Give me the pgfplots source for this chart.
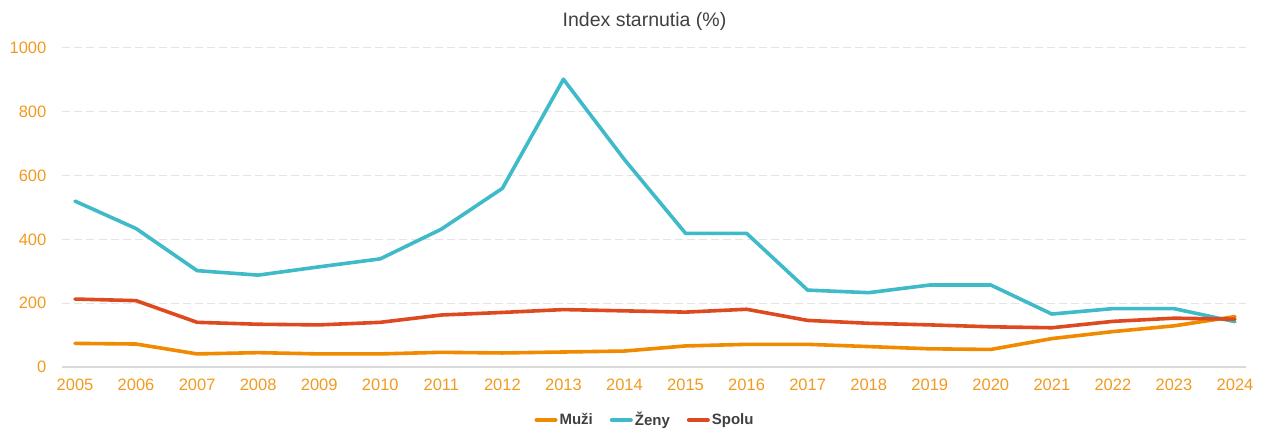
\documentclass[border=0pt]{standalone}
\usepackage{fontspec}
\setmainfont{Liberation Sans}
\usepackage{pgfplots}
\pgfplotsset{compat=1.18}
\definecolor{muzi}{HTML}{F08A00}
\definecolor{zeny}{HTML}{3EBAC8}
\definecolor{spolu}{HTML}{DE4A1F}
\definecolor{tickorange}{HTML}{F29A1F}
\definecolor{titlegray}{HTML}{404040}
\definecolor{gridgray}{HTML}{E4E4E4}
\definecolor{axisgray}{HTML}{D9D9D9}
\begin{document}
\begin{tikzpicture}
\path[use as bounding box] (0,0) rectangle (1263pt,430pt);
\begin{axis}[
  scale only axis, width=1183.5pt, height=319pt,
  at={(62.5pt,63pt)}, anchor=south west,
  xmin=2004.795, xmax=2024.18, ymin=0, ymax=1000,
  xtick={2005,2006,...,2024}, ytick={0,200,...,1000},
  /pgf/number format/assume math mode=true,
  /pgf/number format/1000 sep={},
  axis x line=bottom, axis y line=left,
  x axis line style={draw=axisgray, line width=1.5pt, -},
  y axis line style={draw=none},
  major tick length=0pt,
  ymajorgrids,
  grid style={draw=gridgray, line width=1pt, dash pattern=on 8pt off 4pt},
  xticklabel style={font=\fontsize{16.5}{18}\selectfont, text=tickorange, anchor=base, inner sep=0pt, yshift=-23.7pt},
  yticklabel style={font=\fontsize{16.5}{18}\selectfont, text=tickorange, anchor=east, inner sep=0pt, xshift=-16pt},
  clip=false,
  legend columns=3,
  legend style={draw=none, fill=none, at={(axis description cs:0.4922,-0.1661)}, anchor=center,
    font=\bfseries\fontsize{15}{17}\selectfont, text=titlegray,
    /tikz/every even column/.append style={column sep=15pt},
    inner sep=0pt},
  legend image code/.code={\draw[#1, line width=4pt, line cap=round] (0pt,0pt) -- (19pt,0pt);},
  every axis plot/.append style={line width=3.6pt, line join=round, line cap=round},
]
\addplot[muzi] coordinates {
(2005,74) (2006,72) (2007,41) (2008,45) (2009,41) (2010,41) (2011,46) (2012,44) (2013,47) (2014,50)
(2015,66) (2016,71) (2017,71) (2018,64) (2019,57) (2020,55) (2021,89) (2022,111) (2023,129) (2024,158)};
\addlegendentry{Muži}
\addplot[zeny] coordinates {
(2005,520) (2006,434) (2007,302) (2008,288) (2009,314) (2010,339) (2011,432) (2012,560) (2013,902) (2014,650)
(2015,419) (2016,419) (2017,241) (2018,233) (2019,257) (2020,257) (2021,166) (2022,183) (2023,183) (2024,142)};
\addlegendentry{Ženy}
\addplot[spolu] coordinates {
(2005,213) (2006,208) (2007,140) (2008,134) (2009,132) (2010,140) (2011,163) (2012,171) (2013,180) (2014,176)
(2015,172) (2016,181) (2017,146) (2018,137) (2019,132) (2020,126) (2021,123) (2022,143) (2023,153) (2024,150)};
\addlegendentry{Spolu}
\end{axis}
\node[font=\fontsize{19.5}{22}\selectfont, text=titlegray, anchor=base, inner sep=0pt] at (644.5pt,403.3pt) {Index starnutia (\%)};
\end{tikzpicture}
\end{document}
